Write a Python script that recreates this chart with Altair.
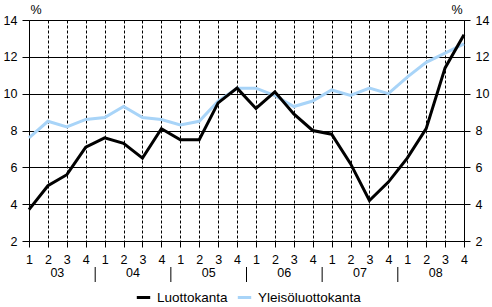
import altair as alt
import pandas as pd

quarter_labels = ["1", "2", "3", "4"] * 6
years = ["03", "04", "05", "06", "07", "08"]
luottokanta = [3.7, 5.0, 5.6, 7.1, 7.6, 7.3, 6.5, 8.1, 7.5, 7.5, 9.5, 10.3,
               9.2, 10.1, 8.9, 8.0, 7.8, 6.2, 4.2, 5.2, 6.5, 8.1, 11.4, 13.2]
yleiso = [7.6, 8.5, 8.2, 8.6, 8.7, 9.3, 8.7, 8.6, 8.3, 8.5, 9.6, 10.3,
          10.3, 9.9, 9.3, 9.6, 10.2, 9.9, 10.3, 10.0, 10.9, 11.7, 12.2, 12.7]
series_names = ["Luottokanta", "Yleisöluottokanta"]
series_colors = ["#000000", "#a8d4f8"]
y_ticks = [2, 4, 6, 8, 10, 12, 14]

n = len(quarter_labels)
df_black = pd.DataFrame({"idx": list(range(n)), "value": luottokanta, "series": series_names[0]})
df_blue = pd.DataFrame({"idx": list(range(n)), "value": yleiso, "series": series_names[1]})
df_years = pd.DataFrame({"idx": [4 * k + 1.5 for k in range(len(years))], "year": years})
df_sep = pd.DataFrame({"idx": [4 * k + 3.5 for k in range(len(years) - 1)]})

W, H = 435, 221
FONT = "Liberation Sans"

label_expr = "[" + ",".join(f"'{q}'" for q in quarter_labels) + "][datum.value]"

x_scale = alt.Scale(domain=[0, n - 1], nice=False, zero=False)
y_scale = alt.Scale(domain=[2, 14], nice=False, zero=False)

x_axis_enc = alt.X(
    "idx:Q", scale=x_scale, title=None,
    axis=alt.Axis(values=list(range(n)), labelExpr=label_expr, grid=True,
                  gridDash=[3, 2], gridColor="#000000", gridOpacity=1, gridWidth=1,
                  domainColor="#000000", tickColor="#000000", tickSize=6,
                  labelPadding=6, labelFontSize=12.5, labelColor="#000000",
                  labelFont=FONT, labelFlush=False, labelOverlap=False),
)
x_plain = alt.X("idx:Q", scale=x_scale, axis=None)

color_enc = alt.Color(
    "series:N",
    scale=alt.Scale(domain=series_names, range=series_colors),
    legend=alt.Legend(orient="none", legendX=106, legendY=269, direction="horizontal",
                      title=None, symbolType="stroke", symbolSize=180,
                      symbolStrokeWidth=3, labelFontSize=13.5, labelFont=FONT,
                      labelColor="#000000", labelOffset=5, columnPadding=3,
                      padding=0),
)

blue = alt.Chart(df_blue).mark_line(strokeWidth=3).encode(
    x=x_plain,
    y=alt.Y("value:Q", scale=y_scale, title="%",
            axis=alt.Axis(orient="right", values=y_ticks, grid=False,
                          domainColor="#000000", tickColor="#000000", tickSize=6,
                          labelPadding=5, labelFontSize=12.5, labelFont=FONT,
                          labelColor="#000000", titleAngle=0, titleAlign="right",
                          titleBaseline="alphabetic", titleX=-2, titleY=-7,
                          titleFontSize=12.5, titleFontWeight="normal", titleFont=FONT,
                          titleColor="#000000")),
    color=color_enc,
)

black = alt.Chart(df_black).mark_line(strokeWidth=3).encode(
    x=x_axis_enc,
    y=alt.Y("value:Q", scale=y_scale, title="%",
            axis=alt.Axis(orient="left", values=y_ticks, grid=True,
                          gridColor="#000000", gridOpacity=1, gridWidth=1,
                          domainColor="#000000", tickColor="#000000", tickSize=7,
                          labelPadding=5, labelFontSize=12.5, labelFont=FONT,
                          labelColor="#000000", titleAngle=0, titleAlign="left",
                          titleBaseline="alphabetic", titleX=1, titleY=-7,
                          titleFontSize=12.5, titleFontWeight="normal", titleFont=FONT,
                          titleColor="#000000")),
    color=color_enc,
)

year_text = alt.Chart(df_years).mark_text(
    fontSize=12.5, font=FONT, color="#000000", baseline="middle", align="center"
).encode(x=x_plain, y=alt.value(H + 32), text="year:N")

seps = alt.Chart(df_sep).mark_rule(color="#000000", strokeWidth=1).encode(
    x=x_plain, y=alt.value(H + 26), y2=alt.value(H + 41)
)

chart = alt.layer(blue, black, year_text, seps).resolve_scale(
    y="independent"
).resolve_axis(x="independent").properties(
    width=W, height=H,
    autosize=alt.AutoSizeParams(type="none"),
    padding={"left": 29, "top": 20, "right": 28, "bottom": 66},
).configure_view(stroke="#000000", strokeWidth=1).configure(background="white")

chart.save("out.html", embed_options={"renderer": "svg", "actions": False})
